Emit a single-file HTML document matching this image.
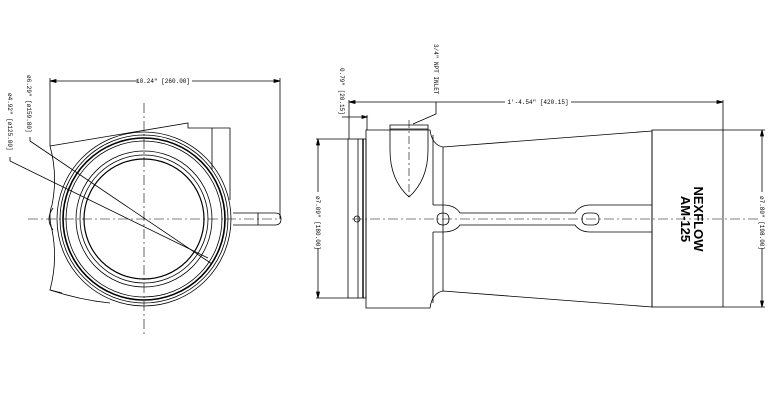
<!DOCTYPE html>
<html><head><style>html,body{margin:0;padding:0;background:#fff}svg{display:block}</style></head><body>
<svg width="768" height="418" viewBox="0 0 768 418" xmlns="http://www.w3.org/2000/svg" font-family="Liberation Mono, monospace" font-size="6" fill="none" stroke="#000" stroke-width="0.8">
<!-- LEFT VIEW -->
<g>
<path d="M50,146 L188,123 L188,128 L230,128 L230,200"/>
<line x1="212" y1="128" x2="212" y2="170"/>
<path d="M50,146 Q58,175 52,205 Q48,215 52,230 Q58,260 50,290 L62,293"/>
<path d="M50,290 Q80,300 110,303"/>
<path d="M53,208 Q45,219 53,230"/>
<circle cx="144" cy="219" r="87"/>
<circle cx="144" cy="219" r="84"/>
<circle cx="144" cy="219" r="81" stroke-width="1.6"/>
<circle cx="144" cy="219" r="78"/>
<circle cx="144" cy="219" r="68"/>
<circle cx="144" cy="219" r="64"/>
<circle cx="144" cy="219" r="60" stroke-width="1.2"/>
<path d="M233,213 L275,213 Q281,213 281,219 Q281,225 275,225 L233,225"/>
<line x1="258" y1="213" x2="258" y2="225"/>
<line x1="28" y1="219" x2="280" y2="219" stroke-dasharray="10,3,2,3" stroke-width="0.6"/>
<line x1="144" y1="103" x2="144" y2="335" stroke-dasharray="10,3,2,3" stroke-width="0.6"/>
<line x1="50" y1="81" x2="280" y2="81"/>
<line x1="50" y1="78" x2="50" y2="146"/>
<line x1="280" y1="78" x2="280" y2="219"/>
<path d="M50,81 l6,-1.5 v3z M280,81 l-6,-1.5 v3z" fill="#000"/>
<rect x="138" y="77" width="54" height="8" fill="#fff" stroke="none"/>
<text x="163" y="83" text-anchor="middle" fill="#000" stroke="none">10.24" [260.00]</text>
<polyline points="30,137 30,141 212,264"/>
<polyline points="10,157 10,161 208,258"/>
<text transform="translate(27,75) rotate(90)" fill="#000" stroke="none">ø6.29" [ø159.80]</text>
<text transform="translate(8,93) rotate(90)" fill="#000" stroke="none">ø4.92" [ø125.00]</text>
</g>
<!-- RIGHT VIEW -->
<g>
<rect x="348" y="139" width="18" height="159"/>
<line x1="358" y1="139" x2="358" y2="298"/>
<line x1="363" y1="139" x2="363" y2="298" stroke-width="1.4"/>
<path d="M366,130 L430,130 Q432,145 443,147 L652,131 L652,307 L443,291 Q432,293 430,308 L366,308 Z"/>
<line x1="443" y1="147" x2="443" y2="291"/>
<line x1="433" y1="135" x2="433" y2="205"/>
<line x1="433" y1="232" x2="433" y2="303"/>
<rect x="652" y="130" width="71" height="177"/>
<path d="M390,125 L428,125 L428,150 Q428,180 409,197 Q390,180 390,150 Z"/>
<line x1="390" y1="129" x2="428" y2="129"/>
<path d="M433,205 L443,205 Q455,205 460,213 L575,213 Q580,205 590,205 L652,205"/>
<path d="M433,232 L443,232 Q455,232 460,225 L575,225 Q580,232 590,232 L652,232"/>
<path d="M443,213 Q437,213 437,219 Q437,225 443,225 Q449,225 449,219 Q449,213 443,213"/>
<path d="M593,213 Q599,213 599,219 Q599,225 593,225 L588,225 Q582,225 582,219 Q582,213 588,213 Z"/>
<circle cx="357" cy="219" r="3"/>
<line x1="352" y1="219" x2="765" y2="219" stroke-dasharray="10,3,2,3" stroke-width="0.6"/>
<line x1="409" y1="120" x2="409" y2="200" stroke-dasharray="8,3,2,3" stroke-width="0.6"/>
<text transform="translate(694,219) rotate(90)" text-anchor="middle" fill="#000" stroke="none" font-family="Liberation Sans, sans-serif" font-weight="bold" font-size="13">NEXFLOW</text>
<text transform="translate(681,219) rotate(90)" text-anchor="middle" fill="#000" stroke="none" font-family="Liberation Sans, sans-serif" font-weight="bold" font-size="13">AM-125</text>
<!-- dims -->
<line x1="349" y1="102" x2="723" y2="102"/>
<line x1="349" y1="100" x2="349" y2="139"/>
<line x1="723" y1="100" x2="723" y2="130"/>
<path d="M349,102 l6,-1.5 v3z M723,102 l-6,-1.5 v3z" fill="#000"/>
<rect x="505" y="98" width="66" height="8" fill="#fff" stroke="none"/>
<text x="538" y="104" text-anchor="middle" fill="#000" stroke="none">1'-4.54" [420.15]</text>
<line x1="342" y1="117" x2="367" y2="117"/>
<line x1="367" y1="115" x2="367" y2="130"/>
<path d="M367,117 l-5,-1.5 v3z" fill="#000"/>
<text transform="translate(340,68) rotate(90)" fill="#000" stroke="none">0.79" [20.15]</text>
<text transform="translate(434,44) rotate(90)" fill="#000" stroke="none">3/4" NPT INLET</text>
<polyline points="436,102 436,114 413,124"/>
<line x1="318" y1="139" x2="318" y2="298"/>
<line x1="316" y1="139" x2="348" y2="139"/>
<line x1="316" y1="298" x2="348" y2="298"/>
<path d="M318,139 l-1.5,6 h3z M318,298 l-1.5,-6 h3z" fill="#000"/>
<rect x="314" y="192" width="8" height="56" fill="#fff" stroke="none"/>
<text transform="translate(316,196) rotate(90)" fill="#000" stroke="none">ø7.09" [180.00]</text>
<line x1="762" y1="130" x2="762" y2="307"/>
<line x1="723" y1="130" x2="765" y2="130"/>
<line x1="723" y1="307" x2="765" y2="307"/>
<path d="M762,130 l-1.5,6 h3z M762,307 l-1.5,-6 h3z" fill="#000"/>
<rect x="758" y="192" width="8" height="56" fill="#fff" stroke="none"/>
<text transform="translate(760,196) rotate(90)" fill="#000" stroke="none">ø7.80" [198.00]</text>
</g>
</svg>
</body></html>
